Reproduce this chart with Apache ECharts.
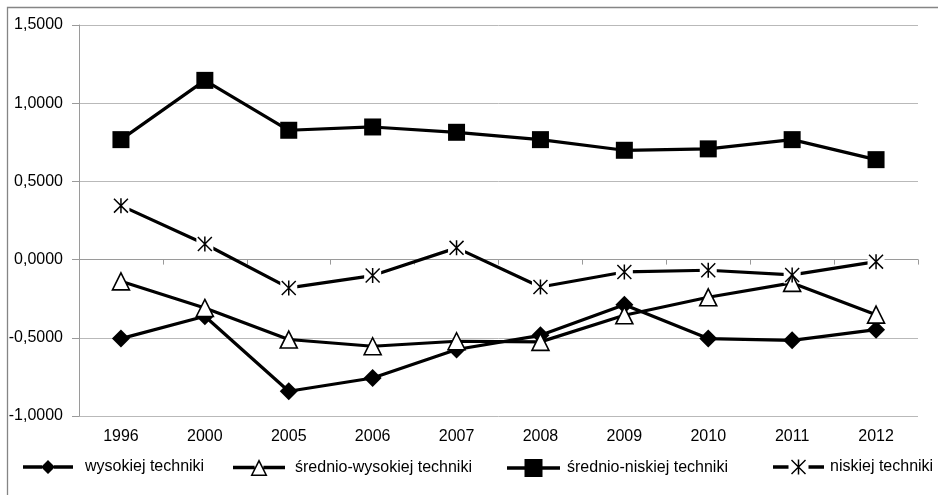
<!DOCTYPE html>
<html>
<head>
<meta charset="utf-8">
<script src="https://cdn.jsdelivr.net/npm/echarts@6/dist/echarts.min.js"></script>
<style>
  html, body { margin: 0; padding: 0; background: #fff; }
  #chart { width: 938px; height: 495px; }
</style>
</head>
<body>
<div id="chart"></div>
<script>
// Years on the category axis
const years = ['1996', '2000', '2005', '2006', '2007', '2008', '2009', '2010', '2011', '2012'];

// Series values
const wysokiej = [-0.505, -0.362, -0.842, -0.757, -0.575, -0.484, -0.288, -0.505, -0.516, -0.448];
const sredniowysokiej = [-0.139, -0.309, -0.511, -0.554, -0.522, -0.526, -0.356, -0.241, -0.149, -0.352];
const sredniowniskiej = [0.767, 1.146, 0.827, 0.848, 0.814, 0.767, 0.699, 0.708, 0.767, 0.639];
const niskiej = [0.345, 0.100, -0.181, -0.102, 0.075, -0.175, -0.079, -0.068, -0.098, -0.013];

// Value axis range
const yMin = -1;
const yMax = 1.5;
const yStep = 0.5;

const FONT = 'Liberation Sans, Arial, sans-serif';

// Asterisk marker: X plus a vertical stroke, built from filled bars
const starPath = 'path://M7.2,0L8.8,0L8.8,16L7.2,16Z' +
  'M0,1.1L1.1,0L16,14.9L14.9,16Z' +
  'M14.9,0L16,1.1L1.1,16L0,14.9Z';

// Legend icons: line stubs with the series marker in the middle
const legendIcons = {
  diamond: { w: 50, h: 14, path: 'path://M0,5.3L19,5.3L19,8.7L0,8.7Z' +
    'M18,7L25,0L32,7L25,14Z' +
    'M31,5.3L50,5.3L50,8.7L31,8.7Z' },
  triangle: { w: 52, h: 17, path: 'path://M0,6.8L21.6,6.8L21.6,10.2L0,10.2Z' +
    'M26,0L34.5,17L17.5,17Z' +
    'M26,3.5L19.9,15.4L32.1,15.4Z' +
    'M30.4,6.8L52,6.8L52,10.2L30.4,10.2Z' },
  square: { w: 53, h: 18, path: 'path://M0,7.3L18,7.3L18,10.7L0,10.7Z' +
    'M17.5,0L35.5,0L35.5,18L17.5,18Z' +
    'M35,7.3L53,7.3L53,10.7L35,10.7Z' },
  star: { w: 51, h: 15, path: 'path://M0,5.8L15.5,5.8L15.5,9.2L0,9.2Z' +
    'M24.75,0L26.25,0L26.25,15L24.75,15Z' +
    'M18,1L19,0L33,14L32,15Z' +
    'M32,0L33,1L19,15L18,14Z' +
    'M35.5,5.8L51,5.8L51,9.2L35.5,9.2Z' }
};

const chart = echarts.init(document.getElementById('chart'), null, { renderer: 'canvas' });

const gridGray = '#b9b9b9';
const axisGray = '#9a9a9a';
const LINE_W = 3.2;
const LEGEND_MID = 468;

function legendAt(name, left, icon, pad) {
  return {
    data: [{ name: name, icon: icon.path, itemStyle: { color: '#000', borderWidth: 0 } }],
    left: left,
    top: LEGEND_MID - Math.max(icon.h, 18) / 2,
    itemWidth: icon.w,
    itemHeight: icon.h,
    padding: 0,
    selectedMode: false,
    textStyle: { fontFamily: FONT, fontSize: 16, color: '#000', padding: [0, 0, 0, pad] }
  };
}

const option = {
  animation: false,
  backgroundColor: '#fff',
  grid: { left: 79, right: 20, top: 25, bottom: 79, containLabel: false },
  legend: [
    legendAt('wysokiej techniki', 23, legendIcons.diamond, 7),
    legendAt('średnio-wysokiej techniki', 233, legendIcons.triangle, 5),
    legendAt('średnio-niskiej techniki', 507, legendIcons.square, 2),
    legendAt('niskiej techniki', 773, legendIcons.star, 1)
  ],
  xAxis: [
    {
      type: 'category',
      data: years,
      position: 'bottom',
      boundaryGap: true,
      axisLine: { show: false, onZero: false },
      axisTick: { show: false },
      axisLabel: { fontFamily: FONT, fontSize: 16, color: '#000', margin: 13 },
      splitLine: { show: false }
    },
    {
      type: 'category',
      data: years,
      position: 'bottom',
      boundaryGap: true,
      axisLine: { show: true, onZero: true, lineStyle: { color: axisGray, width: 1 } },
      axisTick: { show: true, interval: 0, length: 5, lineStyle: { color: axisGray } },
      axisLabel: { show: false },
      splitLine: { show: false }
    }
  ],
  yAxis: {
    type: 'value',
    min: yMin,
    max: yMax,
    interval: yStep,
    axisLine: { show: true, lineStyle: { color: axisGray, width: 1 } },
    axisTick: { show: true, length: 7, lineStyle: { color: axisGray } },
    axisLabel: {
      fontFamily: FONT, fontSize: 16, color: '#000', margin: 16,
      formatter: v => v.toFixed(4).replace('.', ',')
    },
    splitLine: { show: true, lineStyle: { color: gridGray, width: 1 } }
  },
  series: [
    {
      // line of the asterisk series, with a white pad under each marker
      name: 'niskiej-linia',
      type: 'line',
      data: niskiej,
      symbol: 'rect',
      symbolSize: 17,
      itemStyle: { color: '#fff', borderWidth: 0 },
      lineStyle: { color: '#000', width: LINE_W },
      emphasis: { disabled: true },
      silent: true
    },
    {
      name: 'wysokiej techniki',
      type: 'line',
      data: wysokiej,
      symbol: 'diamond',
      symbolSize: 18,
      itemStyle: { color: '#000' },
      lineStyle: { color: '#000', width: LINE_W },
      emphasis: { disabled: true }
    },
    {
      name: 'średnio-wysokiej techniki',
      type: 'line',
      data: sredniowysokiej,
      symbol: 'triangle',
      symbolSize: 17,
      itemStyle: { color: '#fff', borderColor: '#000', borderWidth: 1.6 },
      lineStyle: { color: '#000', width: LINE_W },
      emphasis: { disabled: true }
    },
    {
      name: 'średnio-niskiej techniki',
      type: 'line',
      data: sredniowniskiej,
      symbol: 'rect',
      symbolSize: 17,
      itemStyle: { color: '#000' },
      lineStyle: { color: '#000', width: LINE_W },
      emphasis: { disabled: true }
    },
    {
      name: 'niskiej techniki',
      type: 'line',
      data: niskiej,
      symbol: starPath,
      symbolSize: 15,
      itemStyle: { color: '#000' },
      lineStyle: { width: 0, opacity: 0 },
      emphasis: { disabled: true }
    }
  ],
  graphic: [
    {
      type: 'polyline',
      silent: true,
      shape: { points: [[7.5, 495], [7.5, 7.5], [938, 7.5]] },
      style: { stroke: '#858585', lineWidth: 1.3, fill: null }
    }
  ]
};

chart.setOption(option);
</script>
</body>
</html>
